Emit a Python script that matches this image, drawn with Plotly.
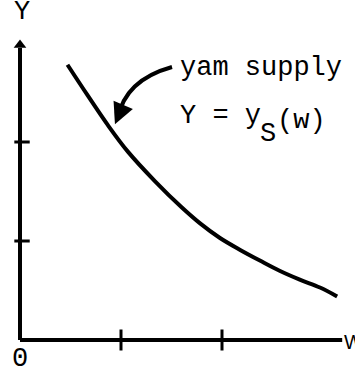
import plotly.graph_objects as go

# Supply curve Y = y_S(w) (units = tick spacing)
wage = [0.47, 0.67, 0.87, 1.07, 1.34, 1.60, 1.78, 1.98, 2.18, 2.38, 2.57, 2.77, 2.97, 3.14]
yam_supply = [2.78, 2.47, 2.17, 1.90, 1.60, 1.34, 1.18, 1.03, 0.91, 0.80, 0.70, 0.61, 0.53, 0.44]

x_ticks = [1, 2]
y_ticks = [1, 2]
x_axis_end = 3.19
y_axis_end = 2.95

FONT = "Liberation Mono, Courier New, monospace"
INK = "black"

fig = go.Figure()

# axes
fig.add_trace(go.Scatter(x=[0, x_axis_end], y=[0, 0], mode="lines",
                         line=dict(color=INK, width=4), hoverinfo="skip"))
fig.add_trace(go.Scatter(x=[0, 0], y=[0, y_axis_end], mode="lines",
                         line=dict(color=INK, width=4), hoverinfo="skip"))
# arrow head on Y axis
fig.add_trace(go.Scatter(x=[0], y=[y_axis_end + 0.03], mode="markers",
                         marker=dict(symbol="triangle-up", size=11, color=INK),
                         hoverinfo="skip"))
# tick marks
fig.add_trace(go.Scatter(x=x_ticks, y=[0] * len(x_ticks), mode="markers",
                         marker=dict(symbol="line-ns", size=15,
                                     line=dict(color=INK, width=3)),
                         hoverinfo="skip"))
fig.add_trace(go.Scatter(x=[0.02] * len(y_ticks), y=y_ticks, mode="markers",
                         marker=dict(symbol="line-ew", size=11,
                                     line=dict(color=INK, width=3)),
                         hoverinfo="skip"))

# supply curve
fig.add_trace(go.Scatter(x=wage, y=yam_supply, mode="lines",
                         line=dict(color=INK, width=4, shape="spline", smoothing=1.0),
                         hoverinfo="skip"))

# curved pointer shaft
fig.add_shape(type="path", xref="x", yref="y",
              path="M 1.505,2.758 Q 1.04,2.626 0.97,2.242",
              line=dict(color=INK, width=4))

annotations = [
    # arrow head of pointer
    dict(x=0.94, y=2.18, ax=6, ay=-14, text="", showarrow=True,
         arrowhead=2, arrowsize=1.4, arrowwidth=3, arrowcolor=INK),
    dict(x=1.56, y=2.75, text="yam supply", xanchor="left", yanchor="middle"),
    dict(x=1.56, y=2.26, text="Y = y", xanchor="left", yanchor="middle"),
    dict(x=2.36, y=2.08, text="S", xanchor="left", yanchor="middle"),
    dict(x=2.52, y=2.21, text="(w)", xanchor="left", yanchor="middle"),
    dict(x=0.02, y=3.31, text="Y", xanchor="center", yanchor="middle"),
    dict(x=0.0, y=-0.19, text="0", xanchor="center", yanchor="middle"),
    dict(x=3.19, y=-0.02, text="W", xanchor="left", yanchor="middle",
         font=dict(family="Liberation Sans, Arial", size=20, color=INK)),
    dict(x=1.53, y=-0.29, text="FIGURE 5", xanchor="center", yanchor="top"),
]
for a in annotations:
    a.setdefault("showarrow", False)
    a.setdefault("font", dict(family=FONT, size=27, color=INK))
    a["xref"] = "x"
    a["yref"] = "y"
    fig.add_annotation(**a)

fig.update_layout(
    width=355, height=375,
    margin=dict(l=0, r=0, t=0, b=0),
    paper_bgcolor="white", plot_bgcolor="white",
    showlegend=False,
    xaxis=dict(range=[-20 / 101, 335 / 101], visible=False, fixedrange=True),
    yaxis=dict(range=[-35 / 99, 340 / 99], visible=False, fixedrange=True),
)

# remove the default page margin so the figure fills the window exactly
fig.write_html(
    "out.html",
    config={"displayModeBar": False, "staticPlot": True},
    post_script="document.body.style.margin='0';document.body.style.overflow='hidden';",
)
